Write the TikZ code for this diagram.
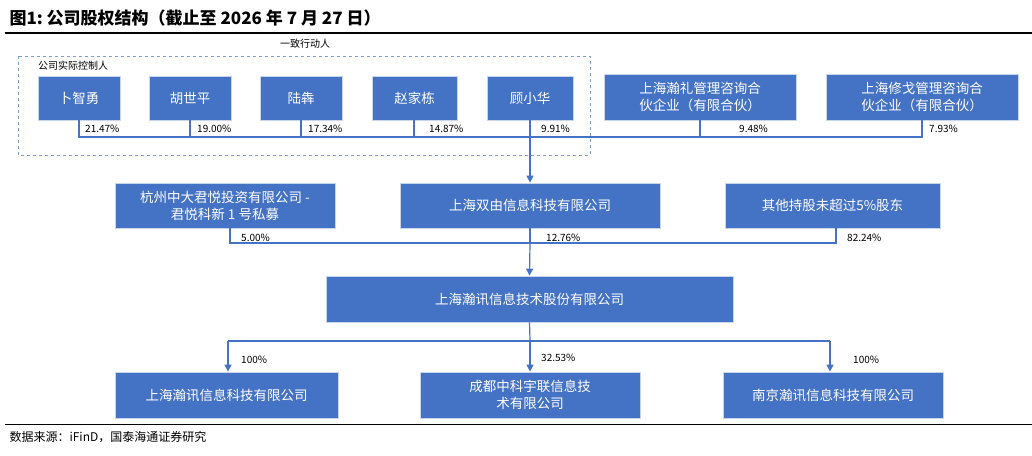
\documentclass[tikz,border=0pt]{standalone}
\usepackage{fontspec}
\setmainfont{Noto Sans CJK SC}
\usetikzlibrary{arrows.meta}
\definecolor{bx}{HTML}{4472C4}
\begin{document}
\begin{tikzpicture}[x=1pt,y=-1pt,
 box/.style={draw=white!70!bx,line width=0.8pt,fill=bx,text=white,inner sep=0pt,font=\fontsize{13.5}{17}\selectfont,align=center},
 ln/.style={draw=bx,line width=1.2pt},
 ar/.style={ln,-{Triangle[length=7pt,width=7pt]}},
 pct/.style={font=\fontsize{10}{11}\selectfont,anchor=west,inner sep=1pt}]
\useasboundingbox (0,0) rectangle (1032,455);
\node[anchor=west,font=\fontsize{17}{19}\selectfont\bfseries] (title) at (6,18) {图1:\ 公司股权结构（截止至 2026 年 7 月 27 日）};
\draw[line width=1.5pt] (5,33) -- (1032,33);
\node[font=\fontsize{10}{11}\selectfont] (yz) at (305,44) {一致行动人};
\draw[bx!70,dashed,line width=0.7pt] (18,56) rectangle (590,155);
\node[anchor=west,font=\fontsize{10}{11}\selectfont,inner sep=0pt] (sk) at (38,66) {公司实际控制人};
\def\bb#1#2#3#4#5#6{\node[box,minimum width=#3-#2,minimum height=#5-#4] (#1) at ({(#2+#3)/2},{(#4+#5)/2}) {#6};}
\bb{p1}{38}{120}{76}{120}{卜智勇}
\bb{p2}{149}{231}{76}{120}{胡世平}
\bb{p3}{260}{342}{76}{120}{陆犇}
\bb{p4}{372}{457}{76}{120}{赵家栋}
\bb{p5}{487}{573}{76}{120}{顾小华}
\bb{q1}{604}{796}{74}{120}{上海瀚礼管理咨询合\\伙企业（有限合伙）}
\bb{q2}{826}{1018}{74}{120}{上海修戈管理咨询合\\伙企业（有限合伙）}
\bb{r1}{115}{335}{183}{228}{杭州中大君悦投资有限公司 -\\君悦科新 1 号私募}
\bb{r2}{400}{660}{183}{228}{上海双由信息科技有限公司}
\bb{r3}{725}{940}{183}{228}{其他持股未超过5\%股东}
\bb{m}{326}{733}{276}{322}{上海瀚讯信息技术股份有限公司}
\bb{s1}{115}{338}{372}{418}{上海瀚讯信息科技有限公司}
\bb{s2}{420}{640}{372}{418}{成都中科宇联信息技\\术有限公司}
\bb{s3}{723}{943}{372}{418}{南京瀚讯信息科技有限公司}
\coordinate (j1) at (530,137);
\draw[ln] (p1.south -| 79,0) |- (j1) -- (922,137) -- (q2.south -| 922,0);
\foreach \n/\x in {p2/190,p3/301,p4/414,p5/530,q1/700} \draw[ln] (\n.south -| \x,0) -- (\x,137);
\draw[ar] (j1) -- (r2.north);
\node[pct] (l1) at (84,129) {21.47\%};
\node[pct] (l2) at (196,129) {19.00\%};
\node[pct] (l3) at (307,129) {17.34\%};
\node[pct] (l4) at (428,129) {14.87\%};
\node[pct] (l5) at (540,129) {9.91\%};
\node[pct] (l6) at (738,129) {9.48\%};
\node[pct] (l7) at (928,129) {7.93\%};
\coordinate (j2) at (530,243);
\draw[ln] (r1.south -| 230,0) |- (836,243) -- (r3.south -| 836,0);
\draw[ln] (r2.south) -- (j2);
\draw[ar] (j2) -- (m.north);
\node[pct] (l8) at (240,238) {5.00\%};
\node[pct] (l9) at (545,238) {12.76\%};
\node[pct] (l10) at (846,238) {82.24\%};
\coordinate (j3) at (530,341);
\draw[ln] (m.south) -- (j3);
\draw[ln] (228,341) -- (830,341);
\draw[ar] (228,341) -- (s1.north -| 228,0);
\draw[ar] (j3) -- (s2.north -| 530,0);
\draw[ar] (830,341) -- (s3.north -| 830,0);
\node[pct] (l11) at (240,360) {100\%};
\node[pct] (l12) at (540,358) {32.53\%};
\node[pct] (l13) at (852,360) {100\%};
\draw[line width=1pt] (5,424) -- (1032,424);
\node[anchor=west,font=\fontsize{12}{13}\selectfont] (src) at (6,437) {数据来源：iFinD，国泰海通证券研究};
\end{tikzpicture}
\end{document}
